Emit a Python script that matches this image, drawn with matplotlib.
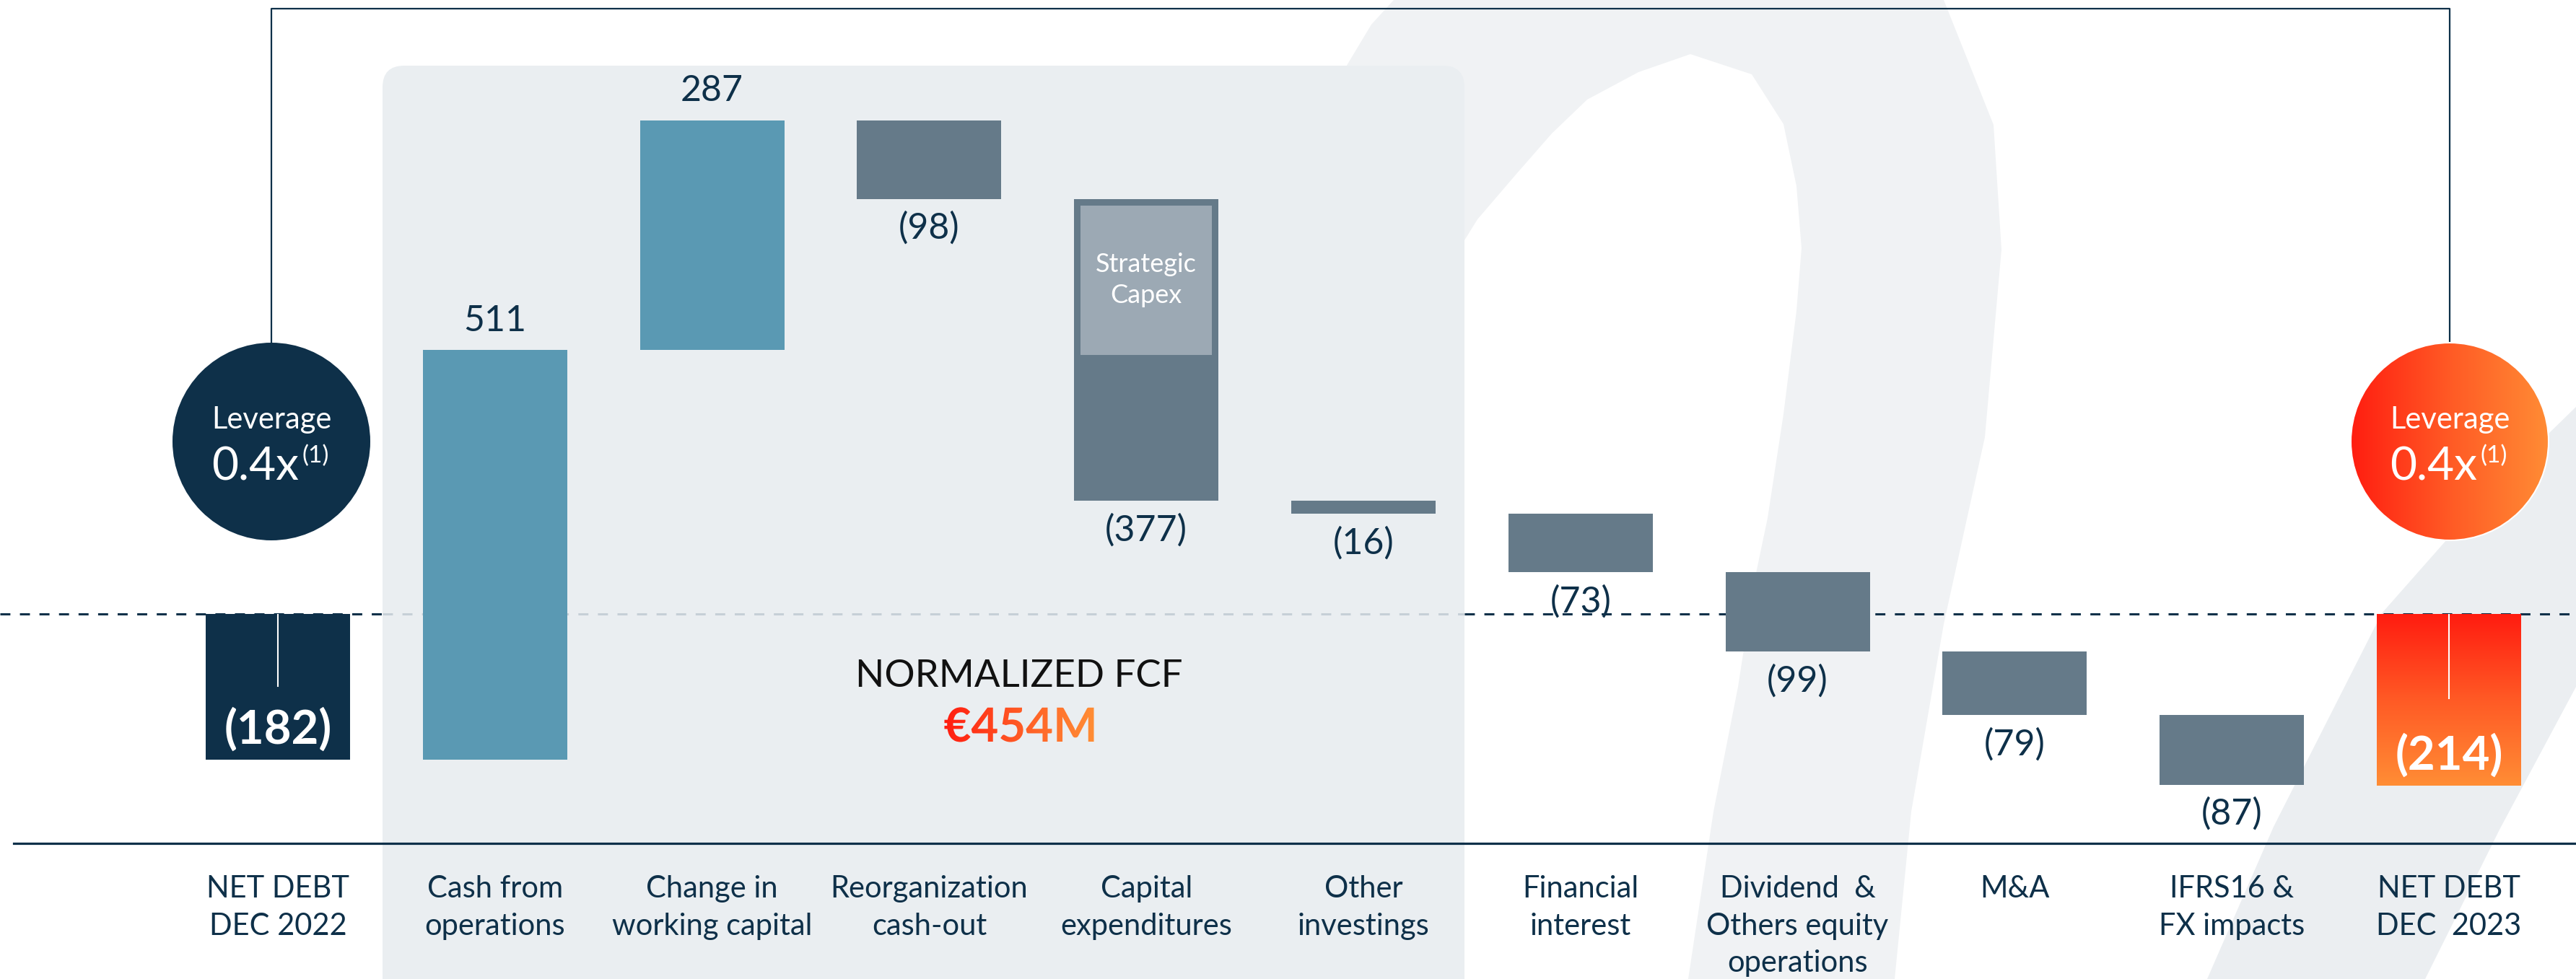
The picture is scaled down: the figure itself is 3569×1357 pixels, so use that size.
import numpy as np
import matplotlib
matplotlib.use("Agg")
import matplotlib.pyplot as plt
from matplotlib.patches import Circle, FancyBboxPatch, PathPatch, Polygon
from matplotlib.textpath import TextPath
from matplotlib.font_manager import FontProperties
from matplotlib.transforms import Affine2D
from matplotlib.colors import LinearSegmentedColormap

plt.rcParams["font.family"] = ["Lato", "DejaVu Sans"]
plt.rcParams["lines.scale_dashes"] = False

# ============================================================
# Data
# ============================================================
categories = [
    "NET DEBT\nDEC 2022", "Cash from\noperations", "Change in\nworking capital",
    "Reorganization\ncash-out", "Capital\nexpenditures", "Other\ninvestings",
    "Financial\ninterest", "Dividend  &\nOthers equity\noperations", "M&A",
    "IFRS16 &\nFX impacts", "NET DEBT\nDEC  2023",
]
net_debt_start = -182
net_debt_end = -214
changes = [511, 287, -98, -377, -16, -73, -99, -79, -87]
change_labels = ["511", "287", "(98)", "(377)", "(16)", "(73)", "(99)", "(79)", "(87)"]
strategic_capex = 187
leverage_labels = ["0.4x", "0.4x"]
fcf_title = "NORMALIZED FCF"
fcf_value = "€454M"

# ============================================================
# Layout / colours
# ============================================================
W, H = 3569, 1357
X0_PX, DX_PX = 385, 300.8      # first bar centre, bar spacing (px)
Y0_PX, PX_UNIT = 851, 1.111    # zero line (px), px per EUR M
BAR_W = 200 / DX_PX

NAVY = "#0e3049"
BLUE = "#5a99b3"
GREY = "#657a89"
LIGHT = "#9ca9b4"
PANEL = "#eaeef1"
SHAPE = "#f0f2f4"
grad_cmap = LinearSegmentedColormap.from_list("redorange", ["#ff1c10", "#ff5a25", "#ff8d35"])


def xpx(px):
    return (px - X0_PX) / DX_PX


def ypx(py):
    return (Y0_PX - py) / PX_UNIT


fig = plt.figure(figsize=(W / 100, H / 100), dpi=100)
fig.patch.set_facecolor("white")
ax = fig.add_axes([0, 0, 1, 1])
ax.set_axis_off()
pix = Affine2D().scale(1 / W, -1 / H).translate(0, 1) + fig.transFigure

# decorative background shapes (big arch + right band)
arch = [(1931, 0), (1900, 34), (1500, 700), (1150, 1357), (1439, 1357), (1900, 557),
        (2029, 333), (2047, 304), (2101, 241), (2150, 185), (2199, 138), (2270, 100),
        (2342, 75), (2427, 103), (2471, 172), (2489, 258), (2496, 344), (2489, 431),
        (2471, 574), (2449, 718), (2431, 804), (2408, 952), (2374, 1125), (2339, 1357),
        (2625, 1357), (2648, 1125), (2693, 865), (2750, 606), (2773, 346), (2762, 173),
        (2693, 0)]
ax.add_patch(Polygon(arch, closed=True, transform=pix, fc=SHAPE, ec="none", zorder=0))
band = [(3058, 1357), (3150, 1146), (3300, 850), (3450, 680), (3569, 564),
        (3569, 952), (3463, 1150), (3360, 1357)]
ax.add_patch(Polygon(band, closed=True, transform=pix, fc="#ebeef1", ec="none", zorder=0))

# normalized FCF panel
ax.add_patch(FancyBboxPatch((530, 91), 1499, 1300, boxstyle="round,pad=0,rounding_size=30",
                            transform=pix, fc=PANEL, ec="none", zorder=1))

# zero line (dashed) and bottom axis line
xl, xr = xpx(0), xpx(W)
for a, b, col in [(xl, xpx(530), NAVY), (xpx(530), xpx(2029), "#c6cfd7"), (xpx(2029), xr, NAVY)]:
    ax.plot([a, b], [0, 0], color=col, lw=2.2, dashes=(10, 9.5), zorder=2)
ax.plot([xpx(19), xr], [ypx(1169)] * 2, color=NAVY, lw=2.3, zorder=2)

# connector between leverage circles
ax.plot([xpx(376), xpx(376), xpx(3394), xpx(3394)], [ypx(475), ypx(12), ypx(12), ypx(475)],
        color=NAVY, lw=1.6, zorder=2)

# ============================================================
# Waterfall bars
# ============================================================
ax.bar(0, net_debt_start, width=BAR_W, bottom=0, color=NAVY, zorder=3)
running = net_debt_start
for i, (c, lab) in enumerate(zip(changes, change_labels), start=1):
    ax.bar(i, c, width=BAR_W, bottom=running, color=BLUE if c > 0 else GREY, zorder=3)
    top = running + c
    off = 29.5 if c > 0 else -29.5
    ax.annotate(lab, (i, top), xytext=(0, off), textcoords="offset points",
                ha="center", va="center", fontsize=36, color=NAVY, zorder=4)
    if i == 4:
        cap_top = running - 9 / PX_UNIT
        ax.bar(i, -strategic_capex, width=182 / DX_PX, bottom=cap_top, color=LIGHT, zorder=3.2)
        ax.text(i, ypx(388), "Strategic\nCapex", ha="center", va="center",
                fontsize=26, color="white", linespacing=1.36, zorder=4)
    running = top

end_bar = ax.bar(10, net_debt_end, width=BAR_W, bottom=0, color="#ff5a25", zorder=3)[0]
img = ax.imshow(np.linspace(0, 1, 256).reshape(-1, 1), cmap=grad_cmap, aspect="auto",
                extent=(10 - BAR_W / 2, 10 + BAR_W / 2, net_debt_end, 0), zorder=3.1)
img.set_clip_path(end_bar)

# white tick inside the net debt bars + bold values
for i, val, tick_len in [(0, net_debt_start, 100), (10, net_debt_end, 117)]:
    ax.plot([i, i], [-1, -tick_len / PX_UNIT], color="white", lw=1.5, zorder=4)
    ax.annotate(f"({abs(val)})", (i, val), xytext=(0, 16), textcoords="offset points",
                ha="center", va="baseline", fontsize=47, fontweight="bold", color="white", zorder=4)

# ============================================================
# Leverage circles
# ============================================================
for k, (cx, lev) in enumerate(zip([376, 3394], leverage_labels)):
    if k == 0:
        circ = Circle((cx, 612), 137, transform=pix, fc=NAVY, ec="none", zorder=5)
        ax.add_patch(circ)
    else:
        circ = Circle((cx, 612), 137, transform=pix, fc="none", ec="white", lw=1.5, zorder=5.2)
        ax.add_patch(circ)
        cimg = ax.imshow(np.linspace(0, 1, 256).reshape(1, -1), cmap=grad_cmap, aspect="auto",
                         extent=(xpx(cx - 140), xpx(cx + 140), ypx(752), ypx(472)), zorder=5)
        cimg.set_clip_path(circ)
    ax.text(xpx(cx), ypx(594), "Leverage", ha="center", va="baseline", fontsize=30,
            color="white", zorder=6)
    ax.text(xpx(cx + 38), ypx(665), lev, ha="right", va="baseline", fontsize=46,
            color="white", zorder=6)
    ax.text(xpx(cx + 42), ypx(617), "(1)", ha="left", va="top", fontsize=24,
            color="white", zorder=6)

# ============================================================
# Normalized FCF text
# ============================================================
ax.text(xpx(1412), ypx(937), fcf_title, ha="center", va="center", fontsize=38,
        color="#111111", zorder=4)
fp = FontProperties(family="Lato", weight="bold", size=47)
tp = TextPath((0, 0), fcf_value, prop=fp)
ext = tp.get_extents()
k = 100 / 72
ttr = Affine2D().translate(-(ext.x0 + ext.x1) / 2, 0).scale(k, -k).translate(1412, 1028) + pix
tpatch = PathPatch(tp, transform=ttr, fc="none", ec="none", zorder=4)
ax.add_patch(tpatch)
timg = ax.imshow(np.linspace(0, 1, 256).reshape(1, -1), cmap=grad_cmap, aspect="auto",
                 extent=(xpx(1412 - ext.width * k / 2), xpx(1412 + ext.width * k / 2),
                         ypx(1045), ypx(970)), zorder=4)
timg.set_clip_path(tpatch)

# ============================================================
# Category labels
# ============================================================
for i, cat in enumerate(categories):
    ax.text(i, ypx(1213), cat, ha="center", va="top", fontsize=30, color=NAVY,
            linespacing=1.44, zorder=4)

ax.set_xlim(xpx(0), xpx(W))
ax.set_ylim(ypx(H), ypx(0))
ax.set_aspect("auto")

fig.savefig("out.png", dpi=100, facecolor="white")
